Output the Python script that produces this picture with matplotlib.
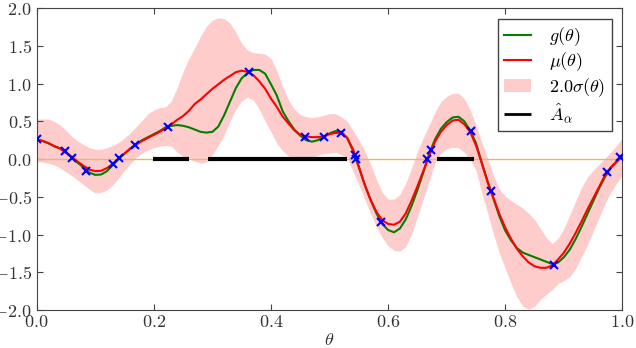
import numpy as np
import matplotlib
matplotlib.use('Agg')
import matplotlib.pyplot as plt
from matplotlib.ticker import FuncFormatter, MultipleLocator

plt.rcParams['mathtext.fontset'] = 'cm'
plt.rcParams['font.family'] = ['DejaVu Serif']

# theta grid the curves were read at (step 0.01)
theta = np.round(np.arange(0, 1.0001, 0.01), 2)

# g(theta), true function (green)
g = [0.26, 0.24, 0.21, 0.17, 0.14, 0.085, 0.02, -0.05, -0.11, -0.18,
     -0.21, -0.205, -0.16, -0.08, 0.00, 0.07, 0.14, 0.20, 0.25, 0.29,
     0.33, 0.37, 0.42, 0.44, 0.45, 0.44, 0.42, 0.39, 0.36, 0.35,
     0.36, 0.43, 0.58, 0.76, 0.94, 1.07, 1.14, 1.18, 1.18, 1.13,
     0.99, 0.84, 0.63, 0.50, 0.39, 0.31, 0.25, 0.23, 0.25, 0.29,
     0.34, 0.37, 0.36, 0.28, 0.11, -0.11, -0.34, -0.54, -0.72, -0.86,
     -0.94, -0.97, -0.92, -0.80, -0.62, -0.41, -0.18, 0.07, 0.26, 0.40,
     0.49, 0.55, 0.56, 0.50, 0.38, 0.21, -0.05, -0.30, -0.53, -0.76,
     -0.95, -1.08, -1.18, -1.24, -1.27, -1.30, -1.33, -1.36, -1.39, -1.37,
     -1.30, -1.20, -1.06, -0.90, -0.73, -0.56, -0.39, -0.24, -0.12, -0.04,
     0.04]

# mu(theta), posterior mean (red)
mu = [0.26, 0.24, 0.21, 0.17, 0.14, 0.085, 0.03, -0.035, -0.09, -0.14,
      -0.16, -0.155, -0.12, -0.065, 0.01, 0.075, 0.14, 0.19, 0.24, 0.28,
      0.32, 0.36, 0.41, 0.46, 0.52, 0.57, 0.64, 0.73, 0.79, 0.86,
      0.93, 0.99, 1.05, 1.10, 1.15, 1.17, 1.155, 1.11, 1.03, 0.93,
      0.80, 0.69, 0.56, 0.47, 0.38, 0.32, 0.30, 0.29, 0.29, 0.30,
      0.33, 0.345, 0.35, 0.28, 0.13, -0.10, -0.34, -0.54, -0.70, -0.81,
      -0.86, -0.87, -0.83, -0.72, -0.55, -0.36, -0.16, 0.04, 0.23, 0.36,
      0.45, 0.51, 0.52, 0.46, 0.36, 0.18, -0.06, -0.31, -0.52, -0.73,
      -0.91, -1.06, -1.19, -1.29, -1.37, -1.42, -1.44, -1.44, -1.41, -1.33,
      -1.24, -1.12, -0.98, -0.83, -0.67, -0.52, -0.37, -0.22, -0.11, -0.03,
      0.04]

# band edges, mu +/- 2 sigma
upper = [0.53, 0.53, 0.53, 0.50, 0.45, 0.38, 0.30, 0.24, 0.19, 0.15,
         0.13, 0.13, 0.15, 0.18, 0.22, 0.28, 0.35, 0.43, 0.51, 0.60,
         0.65, 0.68, 0.69, 0.77, 0.95, 1.16, 1.33, 1.48, 1.63, 1.76,
         1.84, 1.87, 1.86, 1.80, 1.68, 1.53, 1.44, 1.41, 1.40, 1.39,
         1.33, 1.17, 0.96, 0.78, 0.66, 0.59, 0.56, 0.55, 0.56, 0.58,
         0.60, 0.60, 0.56, 0.50, 0.38, 0.25, 0.11, -0.07, -0.27, -0.44,
         -0.53, -0.53, -0.47, -0.32, -0.12, 0.10, 0.28, 0.45, 0.62, 0.76,
         0.83, 0.87, 0.87, 0.80, 0.65, 0.45, 0.22, 0.00, -0.22, -0.40,
         -0.49, -0.55, -0.60, -0.65, -0.72, -0.80, -0.92, -1.04, -1.12, -1.05,
         -0.92, -0.74, -0.56, -0.38, -0.24, -0.15, -0.07, 0.01, 0.09, 0.18,
         0.28]
lower = [-0.035, -0.04, -0.055, -0.08, -0.12, -0.17, -0.22, -0.28, -0.34, -0.40,
         -0.45, -0.44, -0.41, -0.34, -0.25, -0.15, -0.06, 0.02, 0.08, 0.12,
         0.15, 0.17, 0.18, 0.17, 0.09, 0.03, 0.00, -0.03, -0.055, -0.04,
         0.06, 0.18, 0.32, 0.50, 0.66, 0.77, 0.82, 0.78, 0.66, 0.50,
         0.36, 0.21, 0.11, 0.04, 0.02, 0.00, 0.00, 0.02, 0.05, 0.07,
         0.08, 0.09, 0.06, 0.02, -0.16, -0.34, -0.53, -0.72, -0.90, -1.04,
         -1.15, -1.21, -1.22, -1.16, -0.99, -0.77, -0.53, -0.29, -0.05, 0.08,
         0.14, 0.155, 0.15, 0.09, -0.01, -0.15, -0.45, -0.72, -1.00, -1.25,
         -1.45, -1.65, -1.83, -1.95, -1.99, -1.95, -1.86, -1.79, -1.73, -1.65,
         -1.61, -1.56, -1.45, -1.30, -1.14, -0.96, -0.78, -0.59, -0.44, -0.32,
         -0.21]

# evaluated points
theta_obs = [0.0, 0.048, 0.061, 0.085, 0.131, 0.141, 0.168, 0.225, 0.362, 0.458,
             0.490, 0.520, 0.543, 0.545, 0.588, 0.667, 0.673, 0.741, 0.776, 0.883,
             0.973, 0.996]
y_obs = [0.26, 0.10, 0.02, -0.155, -0.07, 0.02, 0.185, 0.43, 1.148, 0.287,
         0.295, 0.34, 0.06, 0.0, -0.83, 0.0, 0.12, 0.375, -0.42, -1.40,
         -0.17, 0.03]

# estimated set A_alpha, as intervals on the theta axis
A_start = [0.199, 0.292, 0.684]
A_end = [0.260, 0.529, 0.746]

fig = plt.figure(figsize=(6.36, 3.48), dpi=100)
ax = fig.add_axes([0.0577, 0.109, 0.921, 0.868])

ax.fill_between(theta, lower, upper, color='#ffcccc', lw=0, label=r'$2.0\sigma(\theta)$', zorder=1)
ax.axhline(0, color='#dcc060', lw=1, zorder=2)
ax.plot(theta, g, color='green', lw=1.5, label=r'$g(\theta)$', zorder=3)
ax.plot(theta, mu, color='red', lw=1.5, label=r'$\mu(\theta)$', zorder=4)
ax.hlines(np.zeros(len(A_start)), A_start, A_end, colors='black', lw=3,
          label=r'$\hat{A}_\alpha$', zorder=5)
ax.plot(theta_obs, y_obs, 'x', color='blue', ms=6, mew=1.5, zorder=6)

ax.set_xlim(0, 1)
ax.set_ylim(-2, 2)
ax.xaxis.set_major_locator(MultipleLocator(0.2))
ax.yaxis.set_major_locator(MultipleLocator(0.5))
fmt = FuncFormatter(lambda v, p: r'$%.1f$' % v)
ax.xaxis.set_major_formatter(fmt)
ax.yaxis.set_major_formatter(fmt)
ax.tick_params(direction='in', top=True, right=True, length=4, labelsize=13,
               color='#444444', labelcolor='#333333')
ax.tick_params(axis='x', pad=2)
for s in ax.spines.values():
    s.set_color('#444444')
ax.set_xlabel(r'$\theta$', fontsize=13, color='#333333', labelpad=0)

h, l = ax.get_legend_handles_labels()
order = [l.index(r'$g(\theta)$'), l.index(r'$\mu(\theta)$'),
         l.index(r'$2.0\sigma(\theta)$'), l.index(r'$\hat{A}_\alpha$')]
leg = ax.legend([h[i] for i in order], [l[i] for i in order], loc='upper right',
                fontsize=13, fancybox=False, framealpha=1, edgecolor='#444444',
                borderaxespad=0.6, borderpad=0.35, handlelength=1.5,
                handletextpad=1.0, labelspacing=0.15)
leg.get_frame().set_linewidth(1)
leg.legend_handles[3].set_linewidth(2)

fig.savefig('out.png', dpi=100)
